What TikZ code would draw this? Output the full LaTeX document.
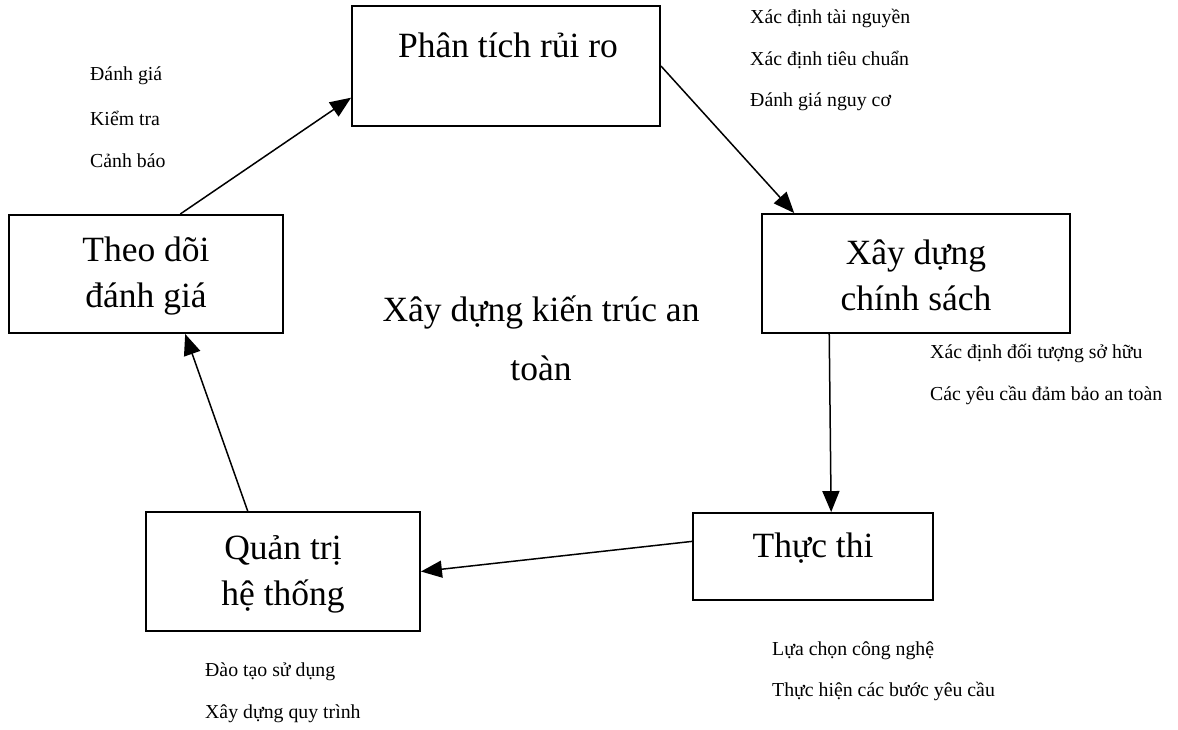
\documentclass[tikz,border=0pt]{standalone}
\usepackage{fontspec}
\setmainfont{Liberation Serif}
\usetikzlibrary{arrows.meta,calc}

\tikzset{
  stage/.style={draw, line width=1.9pt, inner sep=0pt},
  big/.style={font=\fontsize{35.5}{46}\selectfont, align=center, inner sep=0pt},
  note/.style={font=\fontsize{19.8}{22}\selectfont, anchor=west, inner sep=0pt},
  arr/.style={line width=1.5pt, -{Triangle[length=21pt,width=17pt]}}
}

\begin{document}
\begin{tikzpicture}[x=1pt,y=-1pt]
\useasboundingbox (0,0) rectangle (1178,729);

% process stages (drawn as boxes)
\node[stage, minimum width=308pt, minimum height=120pt] (phan) at (506,66) {};
\node[stage, minimum width=274pt, minimum height=118pt] (theo) at (146,274) {};
\node[stage, minimum width=308pt, minimum height=119pt] (xay) at (916,273.5) {};
\node[stage, minimum width=274pt, minimum height=119pt] (quan) at (283,571.5) {};
\node[stage, minimum width=240pt, minimum height=87pt] (thuc) at (813,556.5) {};

% stage titles
\node[big] (phant) at (508,45) {Phân tích rủi ro};
\node[big] (theot) at (146,276) {Theo dõi\\đánh giá};
\node[big] (xayt) at (916,275) {Xây dựng\\chính sách};
\node[big] (quant) at (283,574) {Quản trị\\hệ thống};
\node[big] (thuct) at (813,548) {Thực thi};

% centre caption
\node[font=\fontsize{35.5}{59}\selectfont, align=center, inner sep=0pt] (centre) at (541,338) {Xây dựng kiến trúc an\\toàn};

% cycle connectors
\draw[arr] ($(theo.north west)!0.624!(theo.north east)$) -- ($(phan.north west)!0.76!(phan.south west)$);
\draw[arr] (phan.east) -- ($(xay.north west)!0.107!(xay.north east)$);
\draw[arr] ($(xay.south west)!0.22!(xay.south east)$) -- ($(thuc.north west)!0.575!(thuc.north east)$);
\draw[arr] ($(thuc.north west)!0.33!(thuc.south west)$) -- (quan.east);
\draw[arr] ($(quan.north west)!0.372!(quan.north east)$) -- ($(theo.south west)!0.642!(theo.south east)$);

% side notes
\node[note] (n1) at (90,76) {Đánh giá};
\node[note] (n2) at (90,118) {Kiểm tra};
\node[note] (n3) at (90,161) {Cảnh báo};

\node[note] (r1) at (750,18) {Xác định tài nguyền};
\node[note] (r2) at (750,60) {Xác định tiêu chuẩn};
\node[note] (r3) at (750,102) {Đánh giá nguy cơ};

\node[note] (m1) at (930,353) {Xác định đối tượng sở hữu};
\node[note] (m2) at (930,395) {Các yêu cầu đảm bảo an toàn};

\node[note] (b1) at (772,651) {Lựa chọn công nghệ};
\node[note] (b2) at (772,691) {Thực hiện các bước yêu cầu};

\node[note] (l1) at (205,672) {Đào tạo sử dụng};
\node[note] (l2) at (205,714) {Xây dựng quy trình};
\end{tikzpicture}
\end{document}
